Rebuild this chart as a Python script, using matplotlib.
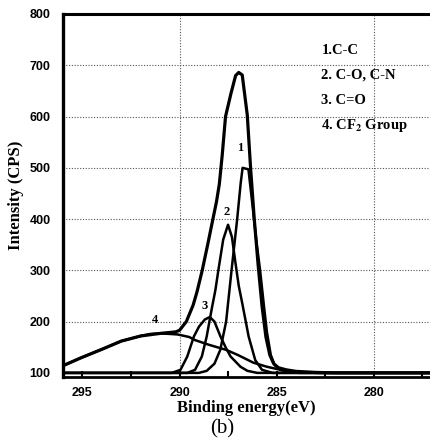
import matplotlib.pyplot as plt

# values (binding energy eV, counts)
env_e = [296.0, 295.1, 294.0, 293.0, 292.0, 291.0, 290.2, 290.0, 289.65, 289.3, 289.1, 288.83, 288.55,
         288.28, 288.1, 287.95, 287.8, 287.63, 287.35, 287.11, 286.95, 286.77, 286.51, 286.34, 286.15,
         285.95, 285.75, 285.55, 285.35, 285.15, 284.9, 284.5, 284.0, 283.0, 282.0, 277.0]
env_v = [114, 129, 146, 162, 172, 177, 180, 183, 200, 232, 258, 300, 350,
         400, 433, 468, 525, 600, 645, 680, 686, 681, 603, 500, 400,
         310, 230, 170, 135, 118, 110, 106, 103, 101, 100, 100]

p1_e = [296.0, 289.0, 288.6, 288.2, 287.9, 287.6, 287.32, 287.03, 286.85, 286.75, 286.45, 286.25,
        286.05, 285.85, 285.65, 285.5, 285.3, 285.1, 284.8, 284.3, 283.8, 277.0]
p1_v = [100, 100, 104, 118, 145, 200, 300, 400, 470, 500, 497, 430,
        360, 300, 230, 180, 135, 115, 106, 101, 100, 100]

p2_e = [296.0, 289.6, 289.2, 288.85, 288.6, 288.35, 288.15, 288.0, 287.75, 287.5, 287.3, 287.12,
        286.95, 286.77, 286.44, 286.1, 285.75, 285.2, 277.0]
p2_v = [100, 100, 106, 132, 171, 223, 262, 300, 360, 389, 365, 315,
        270, 236, 171, 125, 106, 100, 100]

p3_e = [296.0, 290.4, 289.95, 289.6, 289.26, 289.0, 288.7, 288.44, 288.2, 287.89, 287.6, 287.37,
        286.86, 286.5, 286.0, 277.0]
p3_v = [100, 100, 106, 132, 171, 190, 204, 209, 200, 171, 148, 132,
        112, 104, 100, 100]

p4_e = [296.0, 295.1, 294.0, 293.0, 292.0, 291.5, 291.0, 290.5, 290.1, 289.5, 289.2, 288.5, 287.6,
        287.0, 286.2, 285.5, 284.8, 284.0, 283.0, 277.0]
p4_v = [114, 129, 146, 162, 172, 176, 177, 176, 175, 170, 164, 155, 145,
        135, 120, 112, 106, 102, 100, 100]

peak_names = ['1', '2', '3', '4']
peak_lab_e = [286.86, 287.59, 288.71, 291.27]
peak_lab_v = [539, 414, 231, 203]

legend_lines = ['1.C-C', '2. C-O, C-N', '3. C=O', r'4. CF$_\mathbf{2}$ Group']

yticks = [100, 200, 300, 400, 500, 600, 700, 800]
xticks = [295, 290, 285, 280]

plt.rcParams['mathtext.fontset'] = 'stix'

fig = plt.figure(figsize=(4.3, 4.4), dpi=100)
ax = fig.add_axes([63 / 430, 63 / 440, 367 / 430, 363 / 440])

for y in [200, 300, 400, 500, 600, 700]:
    ax.axhline(y, color='#555555', lw=0.8, ls=(0, (1, 1.5)), zorder=1)
for x in [290, 280]:
    ax.axvline(x, color='#555555', lw=0.8, ls=(0, (1, 1.5)), zorder=1)

ax.plot(p4_e, p4_v, color='black', lw=1.8, zorder=3)
ax.plot(p3_e, p3_v, color='black', lw=1.8, zorder=3)
ax.plot(p2_e, p2_v, color='black', lw=1.8, zorder=3)
ax.plot(p1_e, p1_v, color='black', lw=1.8, zorder=3)
ax.plot(env_e, env_v, color='black', lw=2.3, zorder=4)

for name, e, v in zip(peak_names, peak_lab_e, peak_lab_v):
    ax.text(e, v, name, family='Liberation Serif', weight='bold', fontsize=9,
            ha='center', va='center', zorder=5)

for i, s in enumerate(legend_lines):
    ax.text(0.704, 0.9 - i * 0.069, s, transform=ax.transAxes, family='Liberation Serif',
            weight='bold', fontsize=10.5, ha='left', va='center')

ax.set_xlim(296, 277.1)
ax.set_ylim(92, 800)

ax.set_yticks(yticks)
ax.set_yticklabels([str(t) for t in yticks])
ax.set_xticks(xticks)
ax.set_xticklabels([str(t) for t in xticks])
ax.set_xticks([292.5, 287.5, 282.5, 277.5], minor=True)

ax.tick_params(axis='y', length=0, pad=9, labelsize=9)
ax.tick_params(axis='x', which='both', direction='in', length=4, width=1.5, pad=7, labelsize=9)
for lab in ax.get_xticklabels() + ax.get_yticklabels():
    lab.set_family('Liberation Sans')
    lab.set_weight('bold')

ax.spines['right'].set_visible(False)
ax.spines['left'].set_linewidth(2.4)
ax.spines['top'].set_linewidth(2.2)
ax.spines['bottom'].set_linewidth(2.0)

ax.set_ylabel('Intensity (CPS)', family='Liberation Serif', weight='bold', fontsize=12, labelpad=4)
ax.set_xlabel('Binding energy(eV)', family='Liberation Serif', weight='bold', fontsize=12, labelpad=1)
fig.text(0.516, 0.026, '(b)', family='Liberation Serif', fontsize=15, ha='center', va='center')

fig.savefig('out.png', dpi=100)
